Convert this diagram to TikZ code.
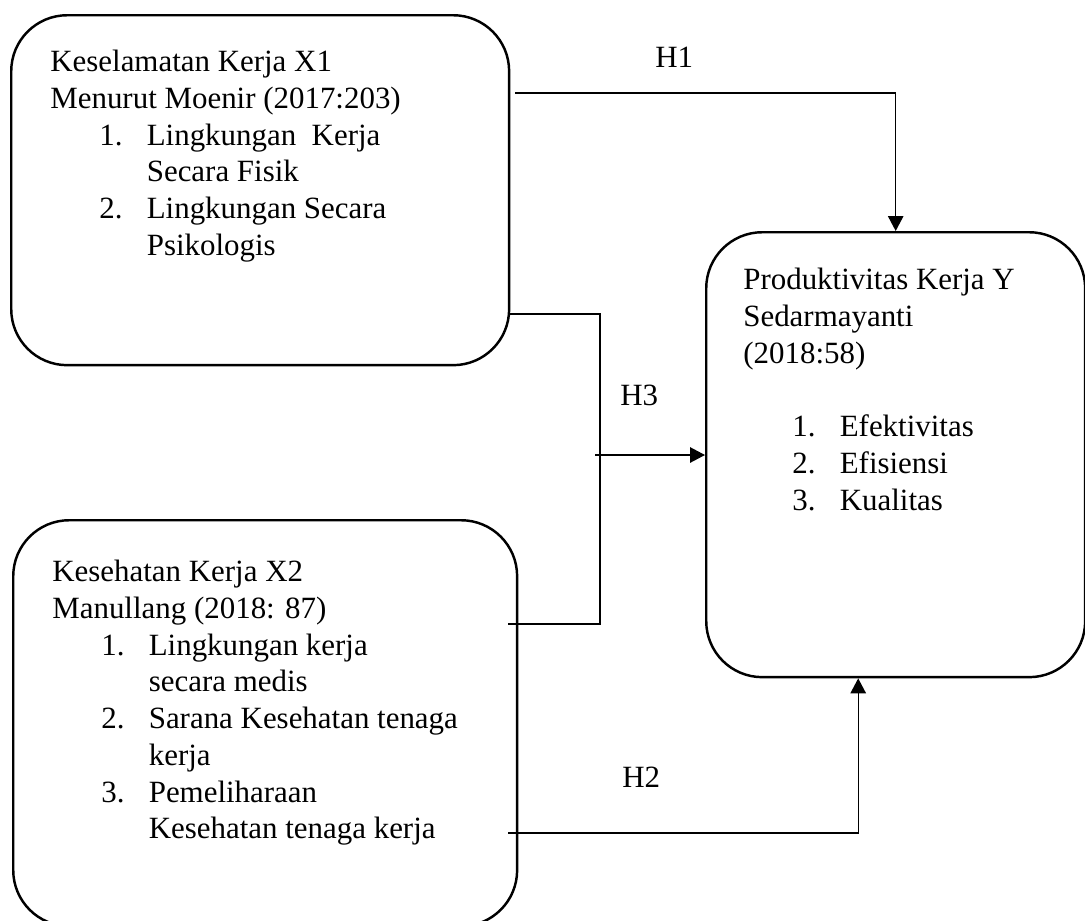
\documentclass[tikz,border=0pt]{standalone}
\usepackage{fontspec}
\setmainfont{Liberation Serif}
\usetikzlibrary{arrows.meta,positioning}

\newlength{\numind}\setlength{\numind}{0.98cm}
\newlength{\numgap}\setlength{\numgap}{0.95cm}
\newcommand{\numitem}[2]{\hspace*{\numind}\makebox[\numgap][l]{#1}#2}
\newcommand{\numcont}[1]{\hspace*{\numind}\hspace*{\numgap}#1}

\begin{document}
\begin{tikzpicture}[x=0.02cm,y=-0.02cm,>={Triangle[width=0.31cm,length=0.3cm]},
  varbox/.style={draw,line width=1.4pt,rounded corners=1.12cm,anchor=north west,inner sep=0pt},
  boxtext/.style={anchor=north west,inner sep=0pt,align=left,font=\fontsize{17.6}{20.9}\selectfont},
  hyp/.style={anchor=base west,inner sep=0pt,font=\fontsize{17.6}{20.9}\selectfont},
  link/.style={line width=0.75pt}]
  \useasboundingbox (0,0) rectangle (1085,920);

  % variables
  \node[varbox,minimum width=9.96cm,minimum height=7.0cm] (kk) at (10,14) {};
  \node[varbox,minimum width=10.08cm,minimum height=8.12cm] (ks) at (12,519) {};
  \node[varbox,minimum width=7.58cm,minimum height=8.9cm] (pk) at (705,231) {};

  \node[boxtext] (kktext) at (50,50) {Keselamatan Kerja X1\\
    Menurut Moenir (2017:203)\\
    \numitem{1.}{Lingkungan\ \ Kerja}\\
    \numcont{Secara Fisik}\\
    \numitem{2.}{Lingkungan Secara}\\
    \numcont{Psikologis}};
  \node[boxtext] (kstext) at (52,560) {Kesehatan Kerja X2\\
    Manullang (2018: 87)\\
    \numitem{1.}{Lingkungan kerja}\\
    \numcont{secara medis}\\
    \numitem{2.}{Sarana Kesehatan tenaga}\\
    \numcont{kerja}\\
    \numitem{3.}{Pemeliharaan}\\
    \numcont{Kesehatan tenaga kerja}};
  \node[boxtext] (pktext) at (743,268) {Produktivitas Kerja Y\\
    Sedarmayanti\\
    (2018:58)\\[20.9pt]
    \numitem{1.}{Efektivitas}\\
    \numitem{2.}{Efisiensi}\\
    \numitem{3.}{Kualitas}};

  % hipotesis
  \coordinate (h1s) at (515,93);
  \draw[link,->] (h1s) -| (pk.north);
  \node[hyp] (h1) at (655,67) {H1};

  \coordinate (h3a) at (508,314);
  \coordinate (h3b) at (508,624);
  \coordinate (h3m) at (600,314);
  \draw[link] (h3a) -- (h3m) -- (h3m |- h3b) -- (h3b);
  \coordinate (h3s) at (595,455);
  \draw[link,->] (h3s) -- (h3s -| pk.west);
  \node[hyp] (h3) at (620,405) {H3};

  \coordinate (h2s) at (508,833);
  \draw[link,->] (h2s) -| ([xshift=-0.75cm]pk.south);
  \node[hyp] (h2) at (622,787) {H2};
\end{tikzpicture}
\end{document}
